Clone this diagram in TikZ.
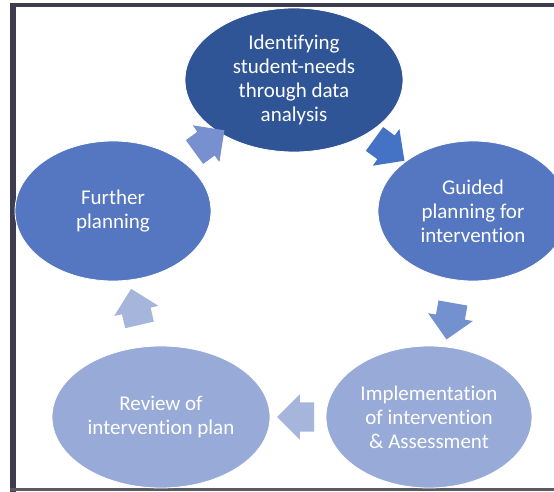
\documentclass[tikz,border=0pt]{standalone}
\usepackage{fontspec}
\setmainfont{Carlito}[Ligatures=NoCommon]
\usetikzlibrary{shapes.geometric,shapes.arrows,positioning,calc}
\definecolor{frame}{HTML}{3D3D4F}
\definecolor{framelow}{HTML}{5A5A64}
\definecolor{dark}{HTML}{2F5597}
\definecolor{mid}{HTML}{5576C1}
\definecolor{pale}{HTML}{98AAD7}
\definecolor{arrmid}{HTML}{7890CF}
\definecolor{arrdark}{HTML}{4472C4}
\definecolor{arrlow}{HTML}{7391CF}
\definecolor{arrpale}{HTML}{A6B5DC}

\begin{document}
\begin{tikzpicture}[x=1pt,y=-1pt,
  font=\fontsize{21}{24}\selectfont,
  stage/.style={ellipse,draw=white,line width=0.8pt,text=white,align=center,
                inner sep=0pt},
  flow/.style={single arrow,draw=none,minimum height=37pt,minimum width=45pt,
               single arrow head extend=8pt,inner xsep=0pt,inner ysep=14.5pt}]
\useasboundingbox (0,0) rectangle (554,492);
\clip (0,0) rectangle (554,492);
\fill[white] (0,0) rectangle (554,492);
% frame, cut off on the right
\fill[frame] (10,3) rectangle (554,7.5);
\fill[frame] (10,3) rectangle (15.5,492);
\fill[framelow] (10,487.5) rectangle (554,491);
% stages
\node[stage,fill=dark,minimum width=218pt,minimum height=144pt] (ident) at (294,80)
  {Identifying\\student-needs\\through data\\analysis};
\node[stage,fill=mid,minimum width=190pt,minimum height=140pt] (guided) at (473,211)
  {Guided\\planning for\\intervention};
\node[stage,fill=pale,minimum width=206pt,minimum height=142pt] (impl) at (429,417)
  {Implementation\\of intervention\\\& Assessment};
\node[stage,fill=pale,minimum width=218pt,minimum height=142pt] (review) at (161,417)
  {Review of\\intervention plan};
\node[stage,fill=mid,minimum width=196pt,minimum height=140pt] (further) at (113,211)
  {Further\\planning};
% cycle arrows
\node[flow,fill=arrdark,rotate=-36] (a1) at ($(ident)!0.5!(guided)$) {};
\node[flow,fill=arrlow,rotate=-100] (a2) at ($(guided)!0.5!(impl)$) {};
\node[flow,fill=arrpale,rotate=180] (a3) at ($(review)!0.53!(impl)$) {};
\node[flow,fill=arrpale,rotate=103] (a4) at ($(review)!0.5!(further)$) {};
\node[flow,fill=arrmid,rotate=36] (a5) at ($(further)!0.5!(ident)$) {};
\end{tikzpicture}
\end{document}
